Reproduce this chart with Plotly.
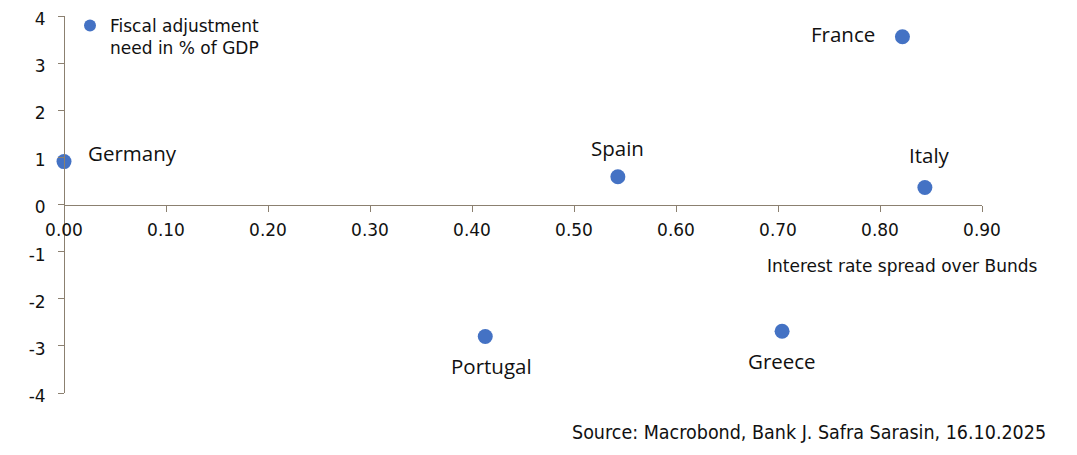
import plotly.graph_objects as go

countries = ["Germany", "France", "Spain", "Italy", "Portugal", "Greece"]
spread = [0.00, 0.822, 0.543, 0.844, 0.413, 0.704]
fiscal_need = [0.91, 3.56, 0.59, 0.36, -2.80, -2.69]
x_ticks = [0.0, 0.1, 0.2, 0.3, 0.4, 0.5, 0.6, 0.7, 0.8, 0.9]
y_ticks = [-4, -3, -2, -1, 0, 1, 2, 3, 4]

# label offsets (pixels) relative to each point: (xshift, yshift, xanchor)
label_offsets = {
    "Germany": (22, 9, "left"),
    "France": (-25, 3, "right"),
    "Spain": (0, 29, "center"),
    "Italy": (5, 33, "center"),
    "Portugal": (6, -30, "center"),
    "Greece": (0, -30, "center"),
}

AX = "#8B8070"
BLUE = "#4472C4"
OFF = 8  # page body margin
L, R, T, B = 64 - OFF, 95 + OFF, 16 - OFF, 62 + OFF
PW, PH = 1077 - L - R, 455 - T - B


def px(xr):
    return (xr - OFF - L) / PW


def py(yr):
    return (455 - B - (yr - OFF)) / PH


fig = go.Figure()
fig.add_trace(go.Scatter(
    x=spread, y=fiscal_need, mode="markers",
    marker=dict(color=BLUE, size=15),
    name="Fiscal adjustment<br>need in % of GDP",
    cliponaxis=False, showlegend=True,
))

for c, xv, yv in zip(countries, spread, fiscal_need):
    dx, dy, xa = label_offsets[c]
    fig.add_annotation(x=xv, y=yv, xref="x", yref="y", text=c, showarrow=False,
                       xshift=dx, yshift=dy, xanchor=xa, yanchor="middle",
                       font=dict(family="Open Sans", size=20.5, color="#111111"))

fig.add_annotation(x=px(1040), y=py(266), xref="paper", yref="paper",
                   text="Interest rate spread over Bunds", showarrow=False,
                   xanchor="right", yanchor="middle",
                   font=dict(family="DejaVu Sans", size=17, color="#111111"))
fig.add_annotation(x=px(1048), y=py(432), xref="paper", yref="paper",
                   text="Source: Macrobond, Bank J. Safra Sarasin, 16.10.2025", showarrow=False,
                   xanchor="right", yanchor="middle",
                   font=dict(family="DejaVu Sans Condensed", size=19.5, color="#111111"))

fig.update_layout(
    width=1077, height=455,
    margin=dict(l=L, r=R, t=T, b=B, autoexpand=False),
    paper_bgcolor="white", plot_bgcolor="white",
    showlegend=True,
    legend=dict(x=px(70), y=py(8), xanchor="left", yanchor="top",
                font=dict(family="DejaVu Sans", size=17, color="#111111"),
                bgcolor="rgba(0,0,0,0)", itemsizing="constant", valign="top",
                tracegroupgap=0),
    xaxis=dict(range=[0, 0.9], tickvals=x_ticks, ticktext=[f"{v:.2f}" for v in x_ticks],
               showgrid=False, zeroline=False, showline=True, linecolor=AX, linewidth=1,
               ticks="outside", tickcolor=AX, ticklen=6, anchor="free", position=0.5,
               automargin=False, ticklabelstandoff=4, ticklabeloverflow="allow",
               tickfont=dict(family="DejaVu Sans", size=17, color="#111111")),
    yaxis=dict(range=[-4, 4], tickvals=y_ticks, ticktext=[str(v) for v in y_ticks],
               showgrid=False, zeroline=False, showline=True, linecolor=AX, linewidth=1,
               ticks="outside", tickcolor=AX, ticklen=6, anchor="free", position=0,
               automargin=False, ticklabelstandoff=9, ticklabeloverflow="allow",
               ticklabelshift=3,
               tickfont=dict(family="DejaVu Sans", size=17, color="#111111")),
)

fig.write_html("out.html")
